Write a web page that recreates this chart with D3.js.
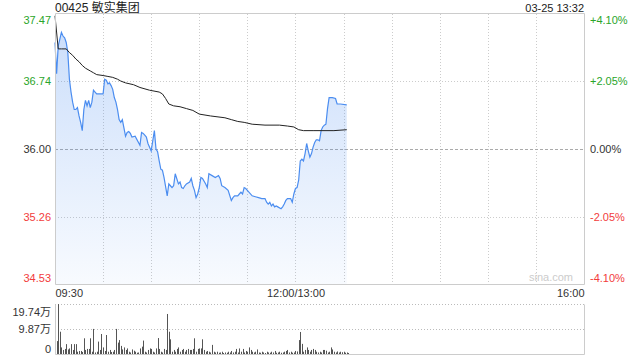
<!DOCTYPE html>
<html>
<head>
<meta charset="utf-8">
<script src="https://cdn.jsdelivr.net/npm/d3@7"></script>
<style>
  body { margin: 0; background: #fff; }
  text { font-family: "Liberation Sans", Arial, "Noto Sans CJK SC", sans-serif; }
</style>
</head>
<body>
<script>
// minutes since 09:30, lunch break left out (12:00 = 150, 13:01 = 151, 16:00 = 330)
const priceMinutes = [
  0, 1, 2, 4, 5, 6, 7, 8, 9, 10,
  11, 12, 13, 14, 15, 16, 17, 18, 19, 20,
  21, 22, 23, 24, 25, 26, 30, 31, 32, 33,
  34, 35, 36, 37, 38, 39, 40, 41, 42, 43,
  44, 45, 46, 47, 48, 50, 53, 54, 55, 56,
  57, 58, 59, 60, 62, 63, 64, 65, 66, 67,
  68, 70, 71, 72, 73, 74, 75, 77, 78, 79,
  80, 81, 82, 84, 85, 86, 87, 88, 89, 90,
  91, 92, 94, 95, 96, 98, 100, 101, 102, 103,
  104, 106, 108, 110, 111, 112, 114, 115, 116, 117,
  118, 119, 120, 123, 125, 127, 129, 131, 132, 133,
  134, 135, 136, 137, 138, 139, 141, 142, 143, 144,
  145, 147, 148, 149, 150, 151, 152, 153, 154, 155,
  156, 157, 158, 159, 160, 161, 162, 163, 164, 165,
  166, 167, 168, 169, 170, 171, 172, 173, 175, 176,
  178, 182
];
const prices = [
  37.16, 36.82, 37.12, 37.27, 37.23, 37.21, 37.16, 37.05, 36.76, 36.62,
  36.51, 36.43, 36.43, 36.45, 36.36, 36.29, 36.20, 36.43, 36.53, 36.47,
  36.53, 36.45, 36.51, 36.64, 36.62, 36.60, 36.60, 36.76, 36.75, 36.71,
  36.72, 36.69, 36.65, 36.56, 36.51, 36.43, 36.32, 36.29, 36.32, 36.23,
  36.14, 36.18, 36.19, 36.17, 36.13, 36.14, 36.04, 36.18, 36.17, 36.15,
  36.13, 36.06, 36.02, 35.98, 36.20, 36.00, 35.97, 35.87, 35.78, 35.77,
  35.69, 35.49, 35.62, 35.60, 35.58, 35.60, 35.73, 35.62, 35.64, 35.58,
  35.57, 35.60, 35.62, 35.64, 35.68, 35.60, 35.55, 35.47, 35.51, 35.58,
  35.69, 35.68, 35.62, 35.58, 35.73, 35.71, 35.69, 35.70, 35.71, 35.68,
  35.60, 35.58, 35.55, 35.44, 35.47, 35.49, 35.49, 35.51, 35.53, 35.51,
  35.58, 35.57, 35.55, 35.49, 35.48, 35.47, 35.46, 35.46, 35.42, 35.40,
  35.42, 35.38, 35.40, 35.37, 35.38, 35.37, 35.35, 35.37, 35.40, 35.44,
  35.46, 35.46, 35.42, 35.51, 35.57, 35.58, 35.66, 35.87, 35.89, 35.87,
  35.95, 36.06, 35.98, 35.91, 35.95, 36.02, 36.07, 36.10, 36.10, 36.09,
  36.20, 36.24, 36.26, 36.27, 36.44, 36.56, 36.56, 36.56, 36.55, 36.49,
  36.49, 36.48
];

const avgMinutes = [
  0, 2, 4, 7, 9, 11, 13, 15, 17, 19,
  22, 24, 26, 30, 33, 36, 39, 41, 44, 49,
  53, 59, 65, 67, 69, 71, 74, 78, 82, 86,
  90, 97, 106, 110, 114, 118, 123, 131, 140, 145,
  149, 152, 155, 161, 174, 182
];
const avgPrices = [
  37.45, 37.09, 37.09, 37.09, 37.05, 37.02, 36.98, 36.95, 36.91, 36.88,
  36.85, 36.83, 36.81, 36.80, 36.79, 36.78, 36.76, 36.74, 36.72, 36.70,
  36.67, 36.64, 36.62, 36.60, 36.55, 36.49, 36.47, 36.46, 36.44, 36.42,
  36.38, 36.36, 36.34, 36.32, 36.30, 36.29, 36.27, 36.26, 36.26, 36.25,
  36.24, 36.21, 36.20, 36.20, 36.20, 36.21
];

// volume per minute, in 万 shares (index = minute)
const volumes = [
  5.1, 19.7, 8.8, 2.6, 1.6, 2.0, 3.9, 1.8, 2.2, 3.9,
  1.6, 3.9, 3.9, 0.9, 1.2, 1.2, 0.8, 6.2, 1.6, 2.0,
  2.0, 6.2, 0.9, 9.9, 0.6, 0.9, 4.9, 1.6, 7.9, 2.6,
  1.2, 7.5, 0.9, 1.6, 0.8, 0.9, 1.6, 9.9, 4.5, 5.5,
  3.2, 1.8, 2.6, 1.6, 2.2, 0.9, 0.6, 1.8, 1.3, 0.9,
  0.5, 0.6, 2.2, 2.9, 5.3, 0.9, 0.6, 1.6, 2.2, 2.0,
  0.9, 0.6, 2.2, 6.3, 2.0, 0.9, 0.6, 2.0, 1.6, 15.8,
  8.8, 5.8, 0.9, 1.6, 0.9, 2.0, 2.6, 0.9, 1.6, 2.0,
  0.9, 1.6, 2.0, 1.6, 1.6, 2.0, 6.2, 0.9, 2.0, 2.2,
  2.2, 5.8, 1.6, 0.9, 1.2, 0.9, 0.6, 3.6, 0.9, 0.6,
  0.9, 0.5, 0.6, 0.9, 0.4, 0.6, 0.5, 0.9, 0.6, 1.2,
  0.6, 0.9, 2.0, 0.6, 2.2, 0.9, 2.0, 0.6, 1.2, 0.9,
  2.6, 1.6, 0.9, 0.6, 0.9, 1.8, 0.6, 0.5, 0.9, 0.6,
  0.4, 0.9, 0.6, 0.5, 0.9, 0.6, 1.2, 0.5, 0.6, 0.9,
  0.5, 0.6, 0.9, 1.2, 1.6, 0.6, 0.9, 0.5, 0.6, 1.2,
  1.0, 5.5, 8.7, 4.0, 0.9, 1.6, 2.6, 1.6, 0.9, 1.6,
  2.0, 1.6, 0.9, 0.6, 0.9, 0.6, 1.6, 1.6, 1.3, 0.6,
  0.9, 2.6, 1.8, 0.9, 0.6, 1.0, 0.6, 0.9, 0.7, 0.9,
  0.5, 0.6, 0.4
];

const priceTicks = [37.47, 36.74, 36.00, 35.26, 34.53];
const pctTicks = ["+4.10%", "+2.05%", "0.00%", "-2.05%", "-4.10%"];
const volTicks = [19.74, 9.87, 0];
const volTickLabels = ["19.74万", "9.87万", "0"];
const timeTicks = [0, 150, 330];
const timeTickLabels = ["09:30", "12:00/13:00", "16:00"];
const prevClose = 36.00;

const W = 640, H = 360;
const plotL = 55, plotR = 584, plotT = 14, plotB = 284;
const volT = 304, volB = 354;

const svg = d3.select("body").append("svg")
    .attr("width", W)
    .attr("height", H);

const x = d3.scaleLinear().domain([0, 330]).range([plotL, plotR]);
const y = d3.scaleLinear().domain([34.53, 37.47]).range([plotB, plotT]);
const yv = d3.scaleLinear().domain([0, 19.74]).range([volB, volT]);

const green = "#2aa52a", red = "#f23c3c", dark = "#333";
const tickColor = v => v > prevClose ? green : (v < prevClose ? red : dark);
const crisp = v => Math.round(v) + 0.5;

// gradient for the price area
const grad = svg.append("defs").append("linearGradient")
    .attr("id", "fill")
    .attr("gradientUnits", "userSpaceOnUse")
    .attr("x1", 0).attr("x2", 0).attr("y1", plotT).attr("y2", plotB);
grad.append("stop").attr("offset", "0%").attr("stop-color", "#4b8df0").attr("stop-opacity", 0.3);
grad.append("stop").attr("offset", "100%").attr("stop-color", "#4b8df0").attr("stop-opacity", 0.04);

// grid
const vGrid = d3.range(30, 330, 30);
svg.selectAll(".vgrid")
    .data(vGrid)
    .enter().append("line")
    .attr("x1", d => crisp(x(d))).attr("x2", d => crisp(x(d)))
    .attr("y1", plotT).attr("y2", plotB)
    .attr("stroke", "#ccc")
    .attr("stroke-dasharray", "1,2");

svg.selectAll(".hgrid")
    .data(priceTicks.slice(1, 4))
    .enter().append("line")
    .attr("x1", plotL).attr("x2", plotR)
    .attr("y1", d => crisp(y(d))).attr("y2", d => crisp(y(d)))
    .attr("stroke", d => d === prevClose ? "#aaa" : "#ccc")
    .attr("stroke-dasharray", d => d === prevClose ? "3,2" : "1,2");

// price area + line
const pts = priceMinutes.map((m, i) => [m, prices[i]]);
svg.append("path")
    .datum(pts)
    .attr("fill", "url(#fill)")
    .attr("d", d3.area().x(d => x(d[0])).y0(plotB).y1(d => y(d[1])));

svg.append("path")
    .datum(pts)
    .attr("fill", "none")
    .attr("stroke", "#4b8df0")
    .attr("stroke-width", 1.2)
    .attr("d", d3.line().x(d => x(d[0])).y(d => y(d[1])));

svg.append("path")
    .datum(avgMinutes.map((m, i) => [m, avgPrices[i]]))
    .attr("fill", "none")
    .attr("stroke", "#222")
    .attr("stroke-width", 1)
    .attr("d", d3.line().x(d => x(d[0])).y(d => y(d[1])));

// price box
svg.append("path")
    .attr("d", `M${crisp(plotL)},${crisp(plotB)}V${crisp(plotT) - 1}H${crisp(plotR)}V${crisp(plotB)}H${crisp(plotL)}`)
    .attr("fill", "none")
    .attr("stroke", "#ccc");

svg.append("text")
    .attr("x", 573).attr("y", 281)
    .attr("text-anchor", "end")
    .attr("font-size", 11)
    .attr("fill", "#ccc")
    .text("sina.com");

// axes
function styleAxis(g) {
  g.select(".domain").remove();
  g.attr("font-family", null);
  g.selectAll("text").attr("font-size", 11);
}

const yLeft = svg.append("g")
    .attr("transform", `translate(${plotL},0)`)
    .call(d3.axisLeft(y).tickValues(priceTicks).tickSize(0).tickPadding(4).tickFormat(d3.format(".2f")))
    .call(styleAxis);
yLeft.selectAll("text").attr("fill", d => tickColor(d))
    .attr("dy", (d, i) => i === 0 ? "9.5px" : (i === priceTicks.length - 1 ? "-3px" : "0.32em"));

const yRight = svg.append("g")
    .attr("transform", `translate(${plotR},0)`)
    .call(d3.axisRight(y).tickValues(priceTicks).tickSize(0).tickPadding(6).tickFormat((d, i) => pctTicks[i]))
    .call(styleAxis);
yRight.selectAll("text").attr("fill", d => tickColor(d))
    .attr("dy", (d, i) => i === 0 ? "9.5px" : (i === priceTicks.length - 1 ? "-3px" : "0.32em"));

const xAxis = svg.append("g")
    .attr("transform", `translate(0,${plotB})`)
    .call(d3.axisBottom(x).tickValues(timeTicks).tickSize(0).tickPadding(5).tickFormat((d, i) => timeTickLabels[i]))
    .call(styleAxis);
xAxis.selectAll("text").attr("fill", dark)
    .attr("text-anchor", (d, i) => i === 0 ? "start" : (i === timeTicks.length - 1 ? "end" : "middle"));

// title + timestamp
svg.append("text")
    .attr("x", plotL).attr("y", 12)
    .attr("font-size", 12)
    .attr("fill", "#222")
    .text("00425 敏实集团");

svg.append("text")
    .attr("x", plotR).attr("y", 11.5)
    .attr("text-anchor", "end")
    .attr("font-size", 11)
    .attr("fill", "#222")
    .text("03-25 13:32");

// volume panel
svg.selectAll(".vline")
    .data(volTicks.slice(0, 2))
    .enter().append("line")
    .attr("x1", plotL).attr("x2", plotR)
    .attr("y1", d => crisp(yv(d))).attr("y2", d => crisp(yv(d)))
    .attr("stroke", "#bbb")
    .attr("stroke-dasharray", "1,2");

svg.append("path")
    .attr("d", `M${crisp(plotL)},${crisp(volT)}V${crisp(volB)}H${crisp(plotR)}V${crisp(volT)}`)
    .attr("fill", "none")
    .attr("stroke", "#ccc");

svg.selectAll(".vol")
    .data(volumes)
    .enter().append("rect")
    .attr("x", (d, i) => Math.round(x(i + 1)))
    .attr("y", d => yv(d))
    .attr("width", 1)
    .attr("height", d => volB - yv(d))
    .attr("fill", "#555");

const vAxis = svg.append("g")
    .attr("transform", `translate(${plotL},0)`)
    .call(d3.axisLeft(yv).tickValues(volTicks).tickSize(0).tickPadding(4).tickFormat((d, i) => volTickLabels[i]))
    .call(styleAxis);
vAxis.selectAll("text").attr("fill", dark)
    .attr("dy", (d, i) => i === 0 ? "11.5px" : (i === volTicks.length - 1 ? "-2px" : "0.32em"));
</script>
</body>
</html>
